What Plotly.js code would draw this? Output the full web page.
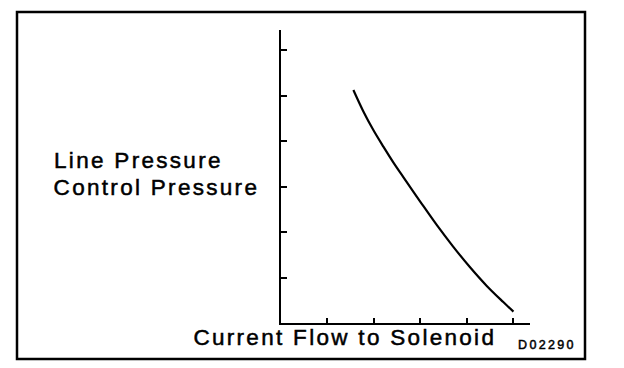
<!DOCTYPE html>
<html>
<head>
<meta charset="utf-8">
<script src="https://cdn.plot.ly/plotly-3.0.1.min.js"></script>
<style>
html,body{margin:0;padding:0;background:#fff;}
#chart{width:624px;height:368px;}
#chart .annotation-text{letter-spacing:2.3px;stroke:#000;stroke-width:0.5px;}
</style>
</head>
<body>
<div id="chart"></div>
<script>
// Data (arbitrary units: one tick = one unit)
var currentFlow = [1.56, 1.77, 1.99, 2.21, 2.42, 2.64, 3.00, 3.36, 3.71, 4.07, 4.43, 4.79, 5.01];
var linePressure = [5.12, 4.66, 4.24, 3.87, 3.53, 3.20, 2.67, 2.15, 1.68, 1.23, 0.82, 0.46, 0.25];
var xTicks = [1, 2, 3, 4, 5];
var yTicks = [1, 2, 3, 4, 5, 6];
var yLabelLines = ["Line Pressure", "Control Pressure"];
var xLabel = "Current Flow to Solenoid";
var figId = "D02290";

var W = 624, H = 368;
var L = 281, R = 530, T = 30, B = 323;
function px(x){ return (x - L) / (R - L); }
function py(y){ return (B - y) / (B - T); }

var font = "Liberation Sans, Arial, Helvetica, sans-serif";

var trace = {
  x: currentFlow, y: linePressure, type: "scatter", mode: "lines",
  line: {color: "#000", width: 2.2, shape: "spline", smoothing: 1}, hoverinfo: "skip"
};

var layout = {
  width: W, height: H,
  margin: {l: L, r: W - R, t: T, b: H - B, pad: 0},
  paper_bgcolor: "#fff", plot_bgcolor: "#fff",
  showlegend: false,
  xaxis: {
    range: [0, (R - L) / 46.4], tickvals: xTicks, showticklabels: false,
    ticks: "inside", ticklen: 5, tickwidth: 2, tickcolor: "#000",
    showline: true, linecolor: "#000", linewidth: 2, showgrid: false, zeroline: false, fixedrange: true
  },
  yaxis: {
    range: [0, (B - T) / 45.5], tickvals: yTicks, showticklabels: false,
    ticks: "inside", ticklen: 6, tickwidth: 2, tickcolor: "#000",
    showline: true, linecolor: "#000", linewidth: 2, showgrid: false, zeroline: false, fixedrange: true
  },
  shapes: [{
    type: "rect", xref: "paper", yref: "paper",
    x0: px(17), x1: px(585), y0: py(359), y1: py(12),
    line: {color: "#000", width: 2.5}, fillcolor: "rgba(0,0,0,0)"
  }],
  annotations: [
    {xref: "paper", yref: "paper", x: px(138), y: py(160), xanchor: "center", yanchor: "middle",
     text: yLabelLines[0], showarrow: false, font: {family: font, size: 22.5, color: "#000"}},
    {xref: "paper", yref: "paper", x: px(156), y: py(187), xanchor: "center", yanchor: "middle",
     text: yLabelLines[1], showarrow: false, font: {family: font, size: 22.5, color: "#000"}},
    {xref: "paper", yref: "paper", x: px(345), y: py(337), xanchor: "center", yanchor: "middle",
     text: xLabel, showarrow: false, font: {family: font, size: 22.5, color: "#000"}},
    {xref: "paper", yref: "paper", x: px(547), y: py(345), xanchor: "center", yanchor: "middle",
     text: figId, showarrow: false, font: {family: font, size: 12.5, color: "#000"}}
  ]
};

Plotly.newPlot("chart", [trace], layout, {displayModeBar: false, staticPlot: true});
</script>
</body>
</html>
